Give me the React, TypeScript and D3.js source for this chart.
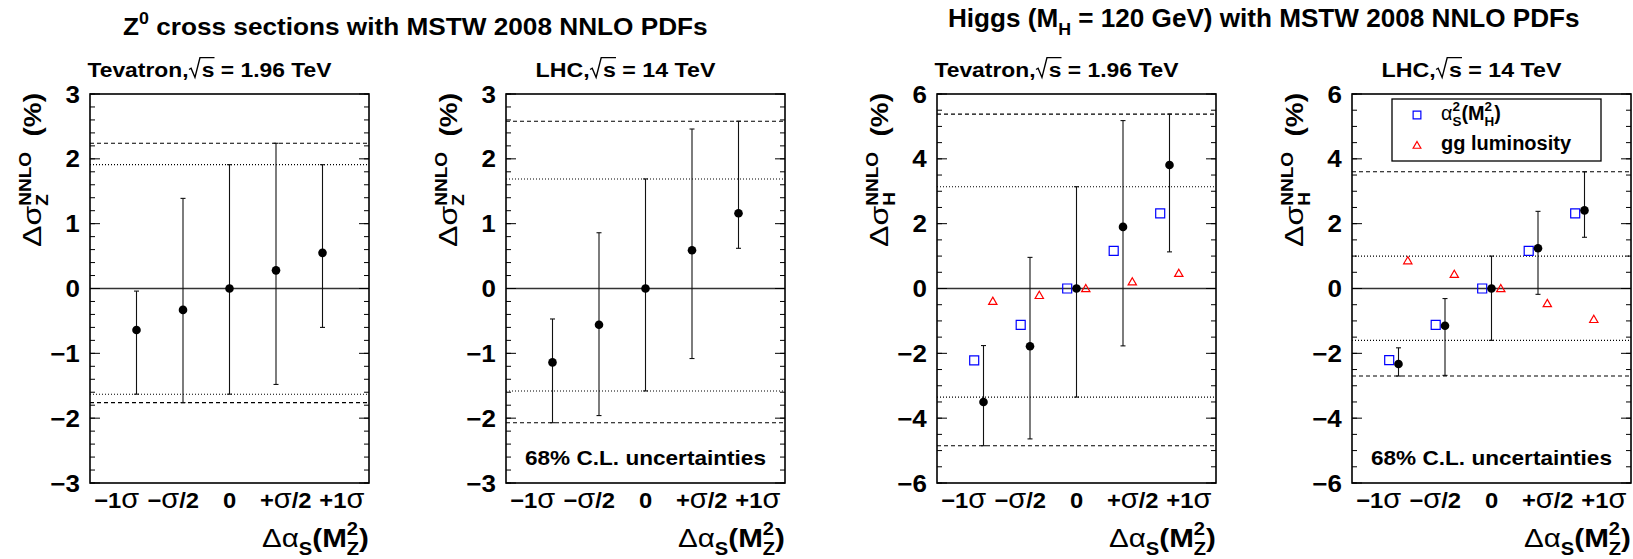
import React, { useEffect, useRef } from "react";
import * as d3 from "d3";

// x categories: shift of alpha_S(M_Z^2)
const sigmaLabels = ["−1σ", "−σ/2", "0", "+σ/2", "+1σ"];

// Z0, Tevatron
const zTevCentral = [-0.64, -0.33, 0, 0.28, 0.55];
const zTevUp = [-0.04, 1.39, 1.91, 2.24, 1.91];
const zTevDown = [-1.63, -1.76, -1.63, -1.48, -0.6];
// Z0, LHC
const zLhcCentral = [-1.14, -0.56, 0, 0.59, 1.16];
const zLhcUp = [-0.47, 0.86, 1.69, 2.46, 2.58];
const zLhcDown = [-2.07, -1.96, -1.58, -1.08, 0.62];
// Higgs, Tevatron
const hTevCentral = [-3.5, -1.78, 0, 1.9, 3.81];
const hTevUp = [-1.76, 0.96, 3.14, 5.18, 5.38];
const hTevDown = [-4.85, -4.64, -3.35, -1.77, 1.13];
const hTevAlphaS = [-2.22, -1.12, 0, 1.16, 2.32];
const hTevGG = [-0.39, -0.21, 0, 0.21, 0.47];
// Higgs, LHC
const hLhcCentral = [-2.33, -1.15, 0, 1.24, 2.41];
const hLhcUp = [-1.83, -0.31, 1.0, 2.38, 3.6];
const hLhcDown = [-2.7, -2.68, -1.6, -0.18, 1.58];
const hLhcAlphaS = [-2.21, -1.12, 0, 1.16, 2.32];
const hLhcGG = [0.86, 0.44, 0, -0.46, -0.95];

const zTicks = [-3, -2, -1, 0, 1, 2, 3];
const hTicks = [-6, -4, -2, 0, 2, 4, 6];

const FONT = "'Liberation Sans', Arial, Helvetica, sans-serif";
const W = 1633;
const H = 559;
const FW = 279;
const FT = 94;
const FB = 483;
const K = 1.13; // ROOT text is a bit wider than plain Arial

const panels = [
  { left: 90, machine: "Tevatron", energy: "1.96", boson: "Z", yMax: 3, ticks: zTicks, minor: 0.2, central: zTevCentral, up: zTevUp, down: zTevDown, cl: false },
  { left: 506, machine: "LHC", energy: "14", boson: "Z", yMax: 3, ticks: zTicks, minor: 0.2, central: zLhcCentral, up: zLhcUp, down: zLhcDown, cl: true },
  { left: 937, machine: "Tevatron", energy: "1.96", boson: "H", yMax: 6, ticks: hTicks, minor: 0.5, central: hTevCentral, up: hTevUp, down: hTevDown, alphaS: hTevAlphaS, gg: hTevGG, cl: false },
  { left: 1352, machine: "LHC", energy: "14", boson: "H", yMax: 6, ticks: hTicks, minor: 0.5, central: hLhcCentral, up: hLhcUp, down: hLhcDown, alphaS: hLhcAlphaS, gg: hLhcGG, cl: true, legend: true },
];

type Part = { t: string; pos?: "sub" | "sup"; stack?: boolean; weight?: string; radical?: boolean; scale?: number };

// greek letters come from a non-bold symbol font in the original
const greekParts = (s: string): Part[] =>
  s.split(/([Δασ])/).filter((d) => d).map((d) => (/[Δασ]/.test(d) ? { t: d, weight: "normal", scale: 1.22 } : { t: d }));

function richText(parent: any, parts: Part[], fs: number, o: any) {
  const g = parent.append("g");
  const inner = g.append("g");
  const text = inner
    .append("text")
    .attr("font-size", fs)
    .attr("font-weight", "bold")
    .attr("font-family", FONT)
    .attr("fill", "#000")
    .style("white-space", "pre");
  let shift = 0;
  let lastW = 0;
  let pad = 0;
  let chars = 0;
  const radicals: number[] = [];
  parts.forEach((p) => {
    const size = p.pos ? fs * 0.68 : fs * (p.scale ?? 1);
    const target = p.pos === "sub" ? fs * 0.32 : p.pos === "sup" ? -fs * 0.45 : 0;
    const ts = text.append("tspan").attr("font-size", size).text(p.t);
    if (target - shift) ts.attr("dy", target - shift);
    if (p.weight) ts.attr("font-weight", p.weight);
    let dx = pad;
    pad = 0;
    if (p.stack) dx -= lastW;
    if (p.radical) dx += fs * 0.58;
    if (dx) ts.attr("dx", dx);
    if (p.radical) radicals.push(chars);
    shift = target;
    const w = ts.node().getComputedTextLength();
    if (p.stack && w < lastW) pad = lastW - w;
    lastW = p.stack ? Math.max(w, lastW) : w;
    chars += p.t.length;
  });
  const bb = text.node().getBBox();
  const f = o.anchor === "middle" ? 0.5 : o.anchor === "end" ? 1 : 0;
  const k = o.width ? o.width / bb.width : o.k ?? 1;
  radicals.forEach((ci) => {
    const e = text.node().getExtentOfChar(ci);
    const x0 = e.x;
    inner
      .append("path")
      .attr(
        "d",
        `M${x0 - fs * 0.56},${-fs * 0.36} L${x0 - fs * 0.47},${-fs * 0.42} L${x0 - fs * 0.3},${fs * 0.02} L${x0 - fs * 0.08},${-fs * 0.92} L${x0 + e.width},${-fs * 0.92}`
      )
      .attr("fill", "none")
      .attr("stroke", "#000")
      .attr("stroke-width", 1.4 / k);
  });
  inner.attr("transform", `scale(${k},1) translate(${-(bb.x + f * bb.width)},0)`);
  g.attr("transform", `translate(${o.x},${o.y})${o.rotate ? ` rotate(${o.rotate})` : ""}`);
  return g;
}

function drawPanel(svg: any, p: any) {
  const x = d3.scaleLinear().domain([-1, 5]).range([p.left, p.left + FW]);
  // bin labels are spread a little wider than the points, as in the original
  const xl = d3
    .scaleLinear()
    .domain([-1, 5])
    .range([p.left + FW / 2 - FW * 0.605, p.left + FW / 2 + FW * 0.605]);
  const y = d3.scaleLinear().domain([-p.yMax, p.yMax]).range([FB, FT]);
  const g = svg.append("g");

  // uncertainty bands: dashed = envelope, dotted = central alpha_S
  const bands = [
    { v: d3.max(p.up), dash: "4,3" },
    { v: d3.min(p.down), dash: "4,3" },
    { v: p.up[2], dash: "1,2" },
    { v: p.down[2], dash: "1,2" },
  ];
  g.selectAll(".band")
    .data(bands)
    .join("line")
    .attr("x1", x(-1))
    .attr("x2", x(5))
    .attr("y1", (d) => y(d.v))
    .attr("y2", (d) => y(d.v))
    .attr("stroke", "#000")
    .attr("stroke-width", 1.1)
    .attr("stroke-dasharray", (d) => d.dash);

  g.append("line")
    .attr("x1", x(-1))
    .attr("x2", x(5))
    .attr("y1", y(0))
    .attr("y2", y(0))
    .attr("stroke", "#333")
    .attr("stroke-width", 1.4);

  const pts = p.central.map((c: number, i: number) => ({ i, c, up: p.up[i], dn: p.down[i] }));
  const err = g.selectAll(".err").data(pts).join("g").attr("stroke", "#111").attr("stroke-width", 1.1);
  err.append("line").attr("x1", (d) => x(d.i)).attr("x2", (d) => x(d.i)).attr("y1", (d) => y(d.up)).attr("y2", (d) => y(d.dn));
  err.append("line").attr("x1", (d) => x(d.i) - 2.5).attr("x2", (d) => x(d.i) + 2.5).attr("y1", (d) => y(d.up)).attr("y2", (d) => y(d.up));
  err.append("line").attr("x1", (d) => x(d.i) - 2.5).attr("x2", (d) => x(d.i) + 2.5).attr("y1", (d) => y(d.dn)).attr("y2", (d) => y(d.dn));

  if (p.alphaS) {
    g.selectAll(".sq")
      .data(p.alphaS)
      .join("path")
      .attr("d", d3.symbol(d3.symbolSquare, 81)())
      .attr("transform", (d, i) => `translate(${x(i - 0.2)},${y(d)})`)
      .attr("fill", "none")
      .attr("stroke", "#0000ff")
      .attr("stroke-width", 1.2);
    g.selectAll(".tri")
      .data(p.gg)
      .join("path")
      .attr("d", d3.symbol(d3.symbolTriangle, 30)())
      .attr("transform", (d, i) => `translate(${x(i + 0.2)},${y(d) + 0.8})`)
      .attr("fill", "none")
      .attr("stroke", "#ff0000")
      .attr("stroke-width", 1.2);
  }

  g.selectAll(".dot")
    .data(pts)
    .join("circle")
    .attr("cx", (d) => x(d.i))
    .attr("cy", (d) => y(d.c))
    .attr("r", 4.3)
    .attr("fill", "#000");

  // frame
  g.append("rect")
    .attr("x", x(-1))
    .attr("y", FT)
    .attr("width", FW)
    .attr("height", FB - FT)
    .attr("fill", "none")
    .attr("stroke", "#000")
    .attr("stroke-width", 1.6);

  // ticks on both sides, inward
  const minors = d3.range(-p.yMax, p.yMax + 1e-6, p.minor);
  const tickData = [
    ...minors.map((v: number) => ({ v, len: 5 })),
    ...p.ticks.map((v: number) => ({ v, len: 10 })),
  ];
  [x(-1), x(5)].forEach((x0, side) => {
    g.append("g")
      .selectAll("line")
      .data(tickData)
      .join("line")
      .attr("x1", x0)
      .attr("x2", (d) => (side ? x0 - d.len : x0 + d.len))
      .attr("y1", (d) => y(d.v))
      .attr("y2", (d) => y(d.v))
      .attr("stroke", "#000")
      .attr("stroke-width", 1);
  });

  // y tick labels
  const fmt = d3.format("d");
  p.ticks.forEach((v: number) => {
    richText(g, [{ t: fmt(v) }], 23, { x: x(-1) - 10, y: y(v) + 8.5, anchor: "end", k: K });
  });

  // x tick labels
  sigmaLabels.forEach((s, i) => {
    richText(g, greekParts(s), 22, { x: xl(i), y: 508, anchor: "middle", k: 1.08 });
  });

  // x title
  richText(
    g,
    [
      { t: "Δα", weight: "normal" },
      { t: "S", pos: "sub" },
      { t: "(M" },
      { t: "Z", pos: "sub" },
      { t: "2", pos: "sup", stack: true },
      { t: ")" },
    ],
    26,
    { x: x(5), y: 547, anchor: "end", width: 107 }
  );

  // y title
  richText(
    g,
    [
      { t: "Δσ", weight: "normal", scale: 1.15 },
      { t: p.boson, pos: "sub" },
      { t: "NNLO", pos: "sup", stack: true },
      { t: "\u00a0\u00a0(%)" },
    ],
    23,
    { x: x(-1) - 49, y: 93, anchor: "end", width: 154, rotate: -90 }
  );

  // pad subtitle
  richText(
    g,
    [{ t: `${p.machine},` }, { t: "s", radical: true }, { t: ` = ${p.energy} TeV` }],
    21,
    { x: x(2) - 20, y: 77, anchor: "middle", width: p.machine === "LHC" ? 180 : 244 }
  );

  if (p.cl) {
    richText(g, [{ t: "68% C.L. uncertainties" }], 20, { x: x(2), y: 465, anchor: "middle", width: 241 });
  }

  if (p.legend) {
    const lg = g.append("g");
    lg.append("rect")
      .attr("x", 1392)
      .attr("y", 99)
      .attr("width", 209)
      .attr("height", 62)
      .attr("fill", "#fff")
      .attr("stroke", "#000")
      .attr("stroke-width", 1.3);
    lg.append("path")
      .attr("d", d3.symbol(d3.symbolSquare, 60)())
      .attr("transform", "translate(1417,115)")
      .attr("fill", "none")
      .attr("stroke", "#0000ff")
      .attr("stroke-width", 1.2);
    lg.append("path")
      .attr("d", d3.symbol(d3.symbolTriangle, 26)())
      .attr("transform", "translate(1417,146)")
      .attr("fill", "none")
      .attr("stroke", "#ff0000")
      .attr("stroke-width", 1.2);
    richText(
      lg,
      [
        { t: "α", weight: "normal" },
        { t: "S", pos: "sub" },
        { t: "2", pos: "sup", stack: true },
        { t: "(M" },
        { t: "H", pos: "sub" },
        { t: "2", pos: "sup", stack: true },
        { t: ")" },
      ],
      20,
      { x: 1441, y: 120, anchor: "start", width: 60 }
    );
    richText(lg, [{ t: "gg luminosity" }], 20, { x: 1441, y: 150, anchor: "start", width: 131 });
  }
}

const App = () => {
  const ref = useRef<SVGSVGElement>(null);

  useEffect(() => {
    const svg = d3.select(ref.current);
    svg.selectAll("*").remove();
    svg.append("rect").attr("width", W).attr("height", H).attr("fill", "#fff");

    richText(
      svg,
      [{ t: "Z" }, { t: "0", pos: "sup" }, { t: " cross sections with MSTW 2008 NNLO PDFs" }],
      24,
      { x: 123, y: 35, anchor: "start", width: 585 }
    );
    richText(
      svg,
      [{ t: "Higgs (M" }, { t: "H", pos: "sub" }, { t: " = 120 GeV) with MSTW 2008 NNLO PDFs" }],
      25,
      { x: 948, y: 27, anchor: "start", width: 632 }
    );

    panels.forEach((p) => drawPanel(svg, p));
  }, []);

  return (
    <svg
      ref={ref}
      width={W}
      height={H}
      style={{ position: "absolute", left: 0, top: 0, background: "#fff" }}
    />
  );
};

export default App;
